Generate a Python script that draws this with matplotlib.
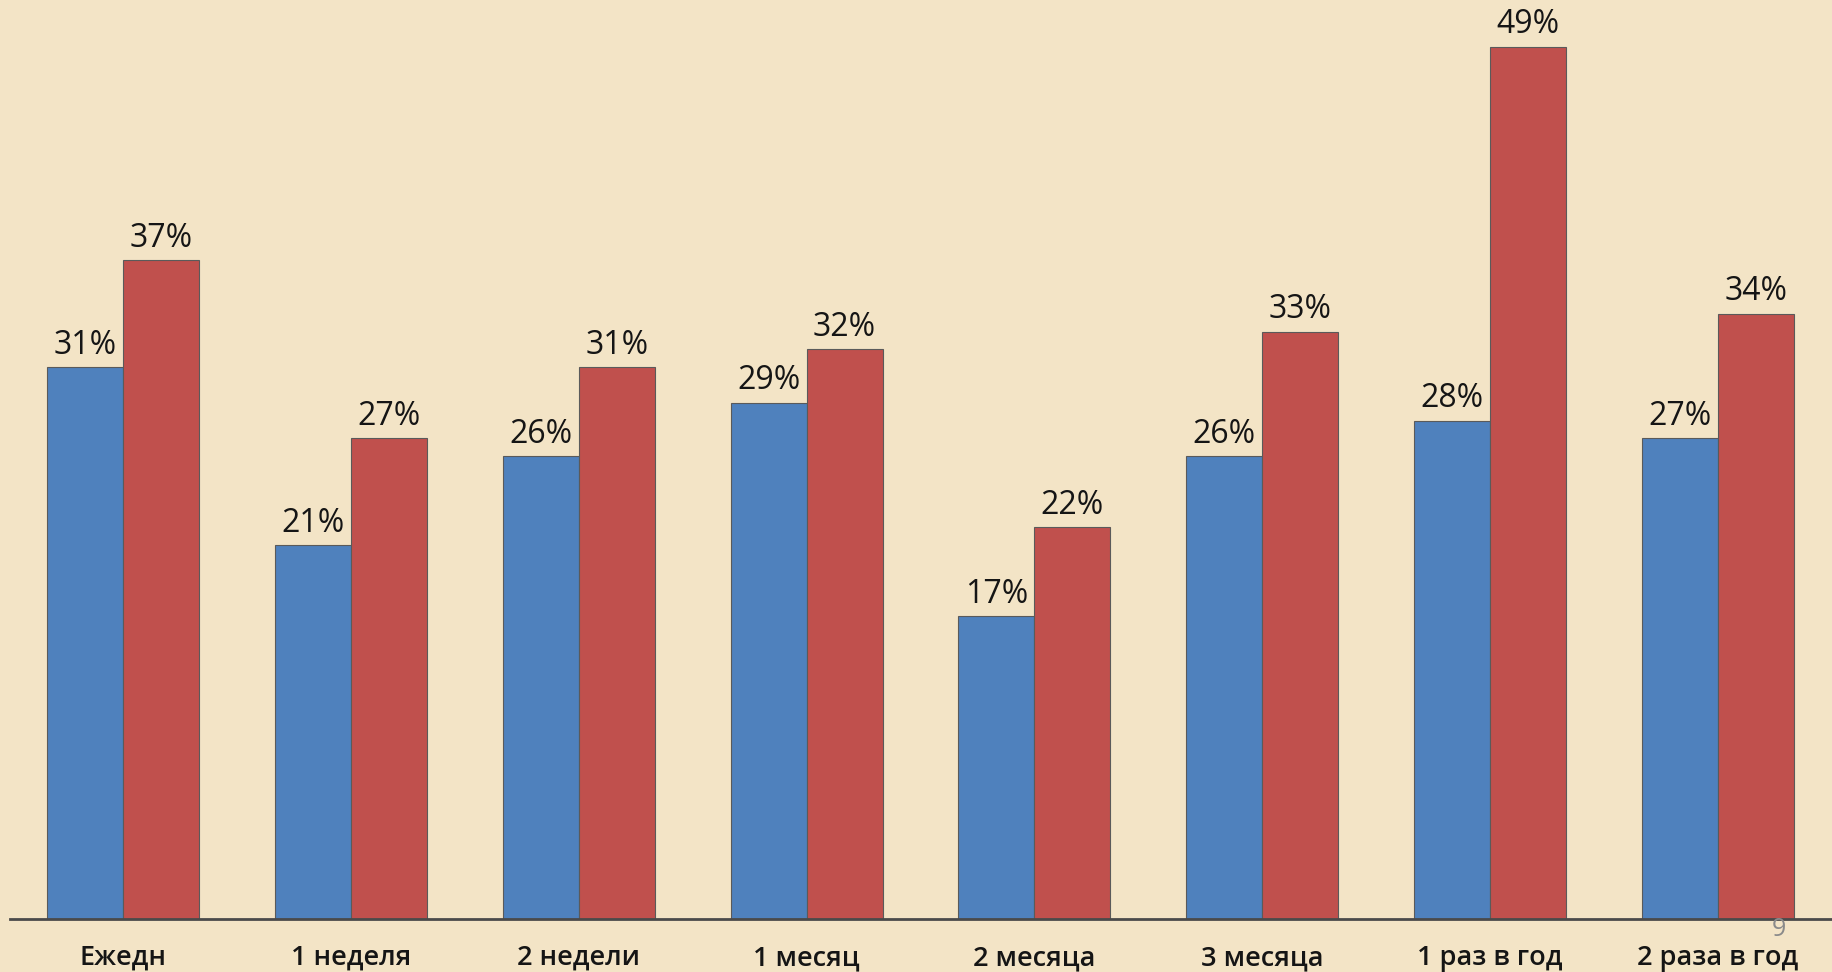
import matplotlib.pyplot as plt
import numpy as np

# значения с диаграммы, %
categories = ['Ежедн', '1 неделя', '2 недели', '1 месяц',
              '2 месяца', '3 месяца', '1 раз в год', '2 раза в год']
blue_vals = [31, 21, 26, 29, 17, 26, 28, 27]
red_vals = [37, 27, 31, 32, 22, 33, 49, 34]

bg = '#F3E4C6'
blue = '#4F81BD'
red = '#C0504D'

plt.rcParams['font.family'] = ['Open Sans', 'DejaVu Sans']

fig = plt.figure(figsize=(18.33, 9.72), dpi=100, facecolor=bg)
ax = fig.add_axes([10 / 1833, 53 / 972, 1 - 10 / 1833, 1 - 53 / 972])
ax.set_facecolor(bg)

x = np.arange(len(categories))
w = 1 / 3
b1 = ax.bar(x - w / 2, blue_vals, w, color=blue, edgecolor='#5a5a5a', linewidth=0.8)
b2 = ax.bar(x + w / 2, red_vals, w, color=red, edgecolor='#5a5a5a', linewidth=0.8)

for bars, vals in ((b1, blue_vals), (b2, red_vals)):
    for r, v in zip(bars, vals):
        ax.annotate(f'{v}%', (r.get_x() + r.get_width() / 2, v),
                    xytext=(0, 4), textcoords='offset points',
                    ha='center', va='bottom', fontsize=23, color='#151515')

ax.set_xlim(-0.496, 7.505)
ax.set_ylim(0, 919 / 17.8)
ax.set_xticks(x)
ax.set_xticklabels(categories, fontsize=19.5, fontweight='semibold', color='#151515')
ax.tick_params(axis='x', length=0, pad=18)
ax.set_yticks([])
for s in ('top', 'right', 'left'):
    ax.spines[s].set_visible(False)
ax.spines['bottom'].set_color('#4a4a4a')
ax.spines['bottom'].set_linewidth(2)

fig.text(1779 / 1833, 1 - 929 / 972, '9', fontsize=18, color='#8a8a8a',
         ha='center', va='center')

fig.savefig('out.png', facecolor=bg)
